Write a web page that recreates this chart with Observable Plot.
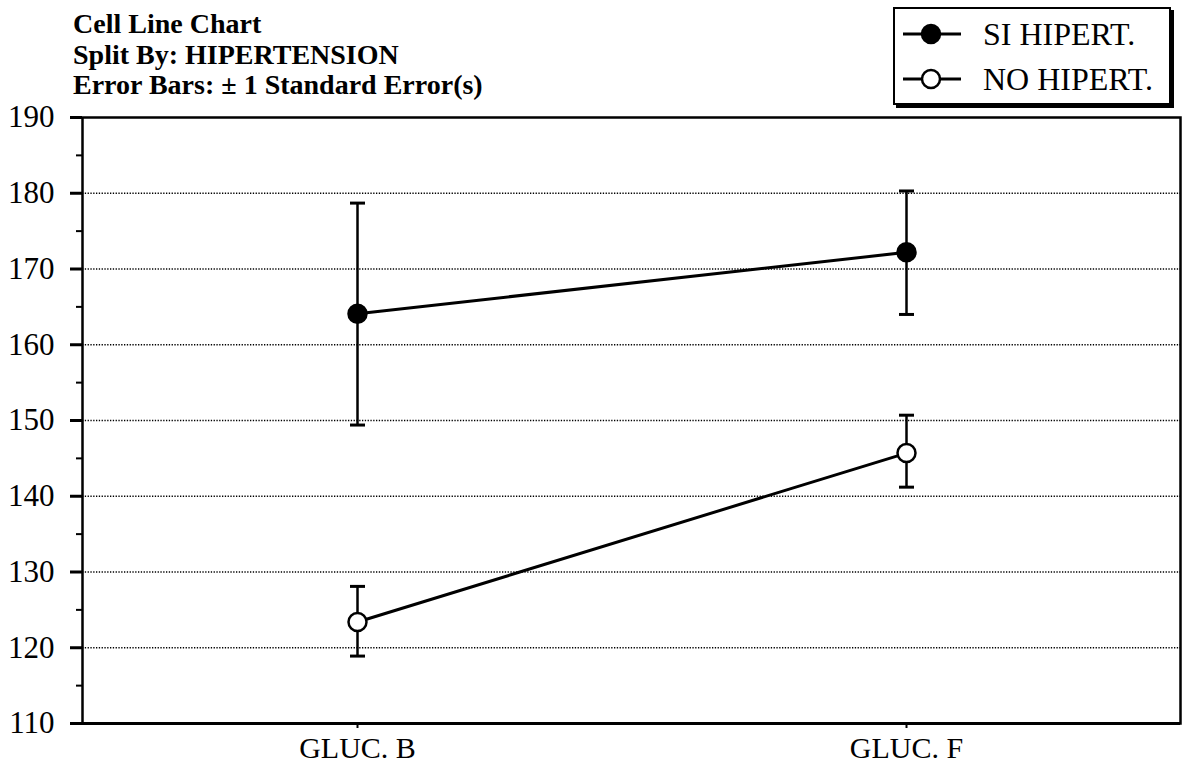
<!DOCTYPE html>
<html>
<head>
<meta charset="utf-8">
<script src="https://cdn.jsdelivr.net/npm/d3@7"></script>
<script src="https://cdn.jsdelivr.net/npm/@observablehq/plot@0.6"></script>
<style>
  html, body { margin: 0; padding: 0; background: white; }
  #wrap { position: relative; width: 1184px; height: 767px; font-family: "Liberation Serif", "Times New Roman", serif; color: black; }
  #title { position: absolute; left: 73px; top: 9px; font-weight: bold; font-size: 28px; line-height: 30.5px; white-space: nowrap; }
  #legend { position: absolute; left: 893px; top: 7px; width: 274px; height: 94px; border: 2.5px solid black; box-shadow: 3px 3px 0 black; background: white; }
  .lrow { position: absolute; left: 8px; height: 30px; display: flex; align-items: center; font-size: 32px; white-space: nowrap; }
  .lrow svg { margin-right: 22px; }
</style>
</head>
<body>
<div id="wrap">
  <div id="chart"></div>
  <div id="title"></div>
  <div id="legend"></div>
</div>
<script>
const titleLines = ["Cell Line Chart", "Split By: HIPERTENSION", "Error Bars: \u00b1 1 Standard Error(s)"];
const categories = ["GLUC. B", "GLUC. F"];
const seriesNames = ["SI HIPERT.", "NO HIPERT."];
const seriesFills = ["black", "white"];
const siMean = [164.1, 172.2];
const siLow = [149.4, 164.0];
const siHigh = [178.7, 180.3];
const noMean = [123.4, 145.7];
const noLow = [118.9, 141.2];
const noHigh = [128.1, 150.7];
const yMajorTicks = [110, 120, 130, 140, 150, 160, 170, 180, 190];
const yMinorTicks = [115, 125, 135, 145, 155, 165, 175, 185];
const gridValues = [120, 130, 140, 150, 160, 170, 180];

const rows = [];
categories.forEach((c, i) => {
  rows.push({cat: c, series: seriesNames[0], fill: seriesFills[0], mean: siMean[i], low: siLow[i], high: siHigh[i]});
  rows.push({cat: c, series: seriesNames[1], fill: seriesFills[1], mean: noMean[i], low: noLow[i], high: noHigh[i]});
});

// horizontal cap symbol for error bars
const capSymbol = {
  draw(context, size) {
    const w = Math.sqrt(size / Math.PI);
    context.moveTo(-w, 0);
    context.lineTo(w, 0);
  }
};

const chart = Plot.plot({
  width: 1184,
  height: 767,
  marginLeft: 82,
  marginRight: 4,
  marginTop: 117,
  marginBottom: 44,
  style: {fontFamily: "'Liberation Serif', 'Times New Roman', serif", fontSize: "31px", color: "black", background: "white"},
  x: {type: "point", domain: categories, padding: 0.5, label: null},
  y: {domain: [110, 190], label: null},
  marks: [
    Plot.gridY(gridValues, {stroke: "black", strokeOpacity: 1, strokeWidth: 1.6, strokeDasharray: "1.3,1.5"}),
    Plot.ruleX(rows, {x: "cat", y1: "low", y2: "high", stroke: "black", strokeWidth: 2.5}),
    Plot.dot(rows, {x: "cat", y: "low", symbol: capSymbol, r: 7.5, fill: "none", stroke: "black", strokeWidth: 3}),
    Plot.dot(rows, {x: "cat", y: "high", symbol: capSymbol, r: 7.5, fill: "none", stroke: "black", strokeWidth: 3}),
    Plot.line(rows, {x: "cat", y: "mean", z: "series", stroke: "black", strokeWidth: 3}),
    Plot.dot(rows, {x: "cat", y: "mean", r: 9, fill: "fill", stroke: "black", strokeWidth: 2.5}),
    Plot.frame({stroke: "black", strokeWidth: 2.5}),
    Plot.axisY(yMajorTicks, {tickSize: 12, tickPadding: 16, strokeWidth: 3, tickFormat: d => String(d), fontSize: 31}),
    Plot.axisY(yMinorTicks, {tickSize: 6, strokeWidth: 2, tickFormat: () => ""}),
    Plot.axisX(categories, {tickSize: 5, tickPadding: 8, strokeWidth: 2, fontSize: 30}),
    Plot.ruleY([110], {stroke: "black", strokeWidth: 3})
  ]
});
document.getElementById("chart").appendChild(chart);

document.getElementById("title").innerHTML = titleLines.map(t => `<div>${t}</div>`).join("");

const legend = document.getElementById("legend");
seriesNames.forEach((name, i) => {
  const row = document.createElement("div");
  row.className = "lrow";
  row.style.top = (i === 0 ? 10 : 55) + "px";
  row.innerHTML = `<svg width="58" height="30"><line x1="0" y1="15" x2="58" y2="15" stroke="black" stroke-width="3"/><circle cx="28" cy="15" r="9" fill="${seriesFills[i]}" stroke="black" stroke-width="2.5"/></svg><span>${name}</span>`;
  legend.appendChild(row);
});
</script>
</body>
</html>
